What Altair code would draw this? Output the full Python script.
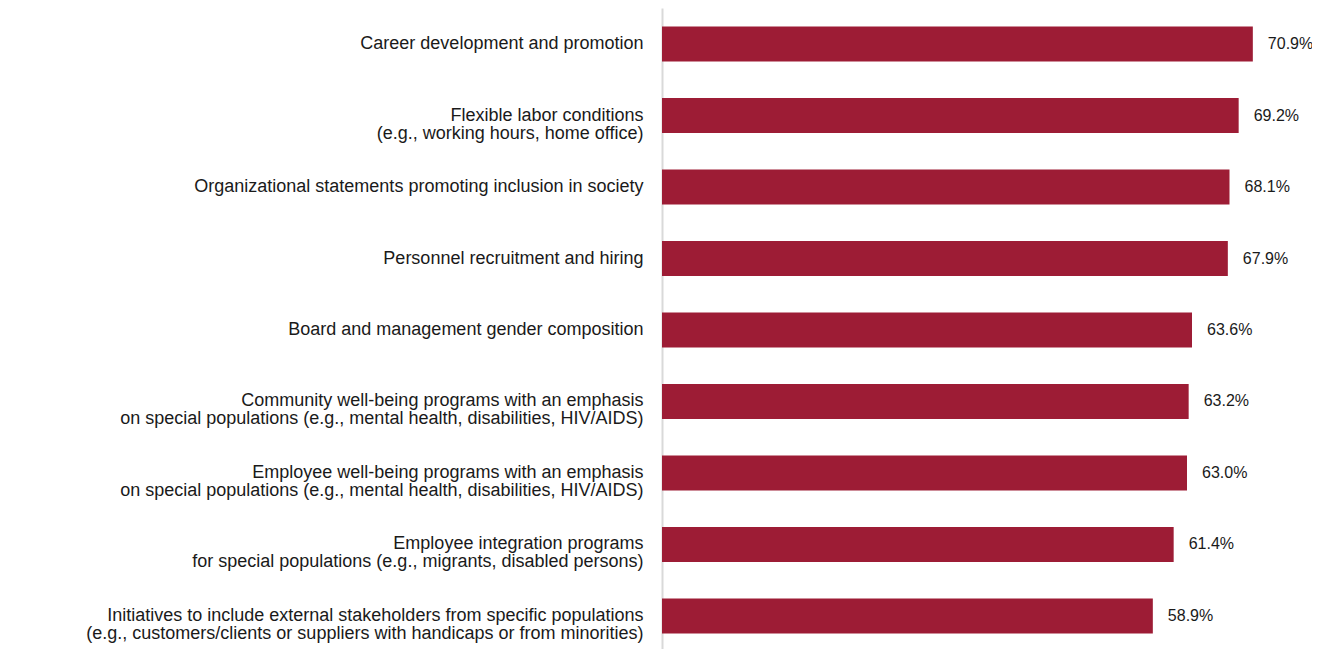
import altair as alt
import pandas as pd

categories = [
    "Career development and promotion",
    "Flexible labor conditions|(e.g., working hours, home office)",
    "Organizational statements promoting inclusion in society",
    "Personnel recruitment and hiring",
    "Board and management gender composition",
    "Community well-being programs with an emphasis|on special populations (e.g., mental health, disabilities, HIV/AIDS)",
    "Employee well-being programs with an emphasis|on special populations (e.g., mental health, disabilities, HIV/AIDS)",
    "Employee integration programs|for special populations (e.g., migrants, disabled persons)",
    "Initiatives to include external stakeholders from specific populations|(e.g., customers/clients or suppliers with handicaps or from minorities)",
]
values = [70.9, 69.2, 68.1, 67.9, 63.6, 63.2, 63.0, 61.4, 58.9]

df = pd.DataFrame({"category": categories, "value": values})
df["label"] = [f"{v:.1f}%" for v in values]

FONT = "Liberation Sans"
BAR = "#9D1C35"

y_enc = alt.Y(
    "category:N",
    sort=None,
    title=None,
    scale=alt.Scale(paddingInner=0.51, paddingOuter=0.26),
    axis=alt.Axis(
        labelExpr="split(datum.label, '|')",
        labelFont=FONT,
        labelFontSize=18,
        labelLineHeight=18,
        labelColor="#1a1a1a",
        labelPadding=19,
        labelLimit=0,
        ticks=False,
        domainColor="#D9D9D9",
        domainWidth=2,
        grid=False,
    ),
)
x_enc = alt.X("value:Q", scale=alt.Scale(domain=[0, 78], nice=False, zero=True), axis=None)

bars = alt.Chart(df).mark_bar(color=BAR).encode(y=y_enc, x=x_enc)
text = alt.Chart(df).mark_text(
    align="left", baseline="middle", dx=15, font=FONT, fontSize=16, color="#1a1a1a"
).encode(y=alt.Y("category:N", sort=None), x="value:Q", text="label:N")

chart = (
    alt.layer(bars, text)
    .properties(
        width=650,
        height=644,
        autosize=alt.AutoSizeParams(type="none"),
        padding={"left": 654, "top": 0, "right": 0, "bottom": 0},
    )
    .configure_view(stroke=None)
)

chart.save("out.html", embed_options={"renderer": "svg", "actions": False})
